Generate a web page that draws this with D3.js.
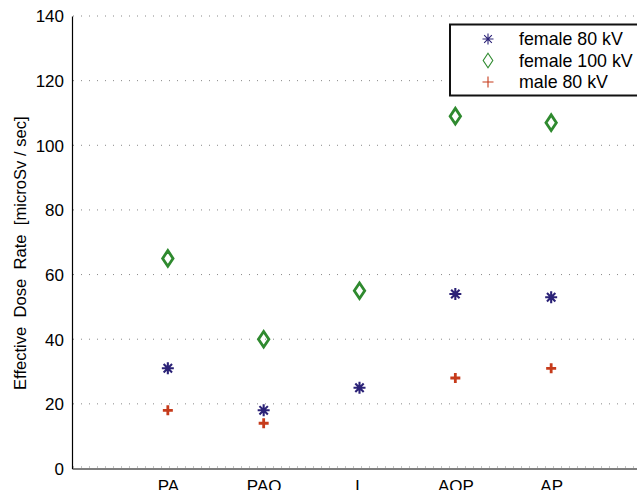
<!DOCTYPE html>
<html>
<head>
<meta charset="utf-8">
<script src="https://cdn.jsdelivr.net/npm/d3@7"></script>
<style>
  body { margin: 0; background: #fff; }
  text { font-family: "Liberation Sans", Arial, sans-serif; fill: #000; }
</style>
</head>
<body>
<figure id="chart" style="margin:0"></figure>
<script>
// data
var categories = ["PA", "PAO", "L", "AOP", "AP"];
var female80 = [31, 18, 25, 54, 53];
var female100 = [65, 40, 55, 109, 107];
var male80 = [18, 14, null, 28, 31];
var yTicks = [0, 20, 40, 60, 80, 100, 120, 140];

var width = 637, height = 490;
var margin = {top: 16, left: 72, bottom: 21.5};

var svg = d3.select("#chart")
  .append("svg")
    .attr("width", width)
    .attr("height", height);

// x: categories sit at 1..5 on a 0..6 axis (right end runs off the page)
var x = d3.scaleLinear().domain([0, 6]).range([margin.left, 647]);
var y = d3.scaleLinear().domain([0, 140]).range([height - margin.bottom, margin.top]);

// dotted grid
svg.append("g")
  .selectAll("line")
  .data(yTicks)
  .join("line")
    .attr("x1", margin.left + 1)
    .attr("x2", width)
    .attr("y1", function(d) { return y(d) === y(0) ? y(d) - 1.5 : y(d); })
    .attr("y2", function(d) { return y(d) === y(0) ? y(d) - 1.5 : y(d); })
    .attr("stroke", "#888")
    .attr("stroke-width", 1)
    .attr("stroke-dasharray", "1 7");

// y axis
svg.append("g")
  .attr("transform", "translate(" + margin.left + ",0)")
  .call(d3.axisLeft(y).tickValues(yTicks).tickSize(0).tickPadding(8))
  .call(function(g) {
    g.select(".domain").attr("stroke", "#000").attr("stroke-width", 1.2);
    g.selectAll("text").style("font-size", "17px").attr("dy", "0.35em");
  });

// x axis
svg.append("g")
  .attr("transform", "translate(0," + y(0) + ")")
  .call(d3.axisBottom(x).tickValues([1, 2, 3, 4, 5])
    .tickFormat(function(d) { return categories[d - 1]; })
    .tickSize(0).tickPadding(11))
  .call(function(g) {
    g.select(".domain").attr("stroke", "#000").attr("stroke-width", 1.2);
    g.selectAll("text").style("font-size", "17px");
  });

// y label
svg.append("text")
  .attr("transform", "translate(26,390) rotate(-90)")
  .attr("text-anchor", "start")
  .style("font-size", "16.6px")
  .style("white-space", "pre")
  .attr("xml:space", "preserve")
  .text("Effective  Dose  Rate  [microSv / sec]");

// marker shapes
function asterisk(g, s, w) {
  var a = s / 2, b = s * 0.35;
  g.append("path")
    .attr("d", "M" + (-a) + ",0H" + a + "M0," + (-a) + "V" + a +
      "M" + (-b) + "," + (-b) + "L" + b + "," + b +
      "M" + (-b) + "," + b + "L" + b + "," + (-b))
    .attr("fill", "none").attr("stroke", "#2b2277").attr("stroke-width", w);
}
function diamond(g, s, w) {
  var a = s * 0.4, b = s * 0.6;
  g.append("path")
    .attr("d", "M0," + (-b) + "L" + a + ",0L0," + b + "L" + (-a) + ",0Z")
    .attr("fill", "none").attr("stroke", "#2f8a2f").attr("stroke-width", w);
}
function plus(g, s, w) {
  var a = s / 2;
  g.append("path")
    .attr("d", "M" + (-a) + ",0H" + a + "M0," + (-a) + "V" + a)
    .attr("fill", "none").attr("stroke", "#c63b1b").attr("stroke-width", w);
}

var series = [
  {values: female80, draw: asterisk, size: 12, w: 2.1},
  {values: female100, draw: diamond, size: 13, w: 2.8},
  {values: male80, draw: plus, size: 10, w: 2.8}
];

series.forEach(function(s) {
  svg.append("g")
    .selectAll("g")
    .data(s.values.map(function(v, i) { return {i: i, v: v}; })
      .filter(function(d) { return d.v !== null; }))
    .join("g")
      .attr("transform", function(d) { return "translate(" + x(d.i + 1) + "," + y(d.v) + ")"; })
      .each(function() { s.draw(d3.select(this), s.size, s.w); });
});

// legend
var legend = svg.append("g");
legend.append("rect")
  .attr("x", 450).attr("y", 24.5)
  .attr("width", 200).attr("height", 71)
  .attr("fill", "#fff").attr("stroke", "#111").attr("stroke-width", 2);

var legendItems = [
  {label: "female 80 kV", draw: asterisk, size: 11, w: 1.1},
  {label: "female 100 kV", draw: diamond, size: 12, w: 1.1},
  {label: "male 80 kV", draw: plus, size: 11, w: 1.1}
];
legendItems.forEach(function(d, i) {
  var cy = 39 + i * 21.5;
  d.draw(legend.append("g").attr("transform", "translate(488," + cy + ")"), d.size, d.w);
  legend.append("text")
    .attr("x", 519).attr("y", cy + 6)
    .style("font-size", "17.8px")
    .text(d.label);
});
</script>
</body>
</html>
